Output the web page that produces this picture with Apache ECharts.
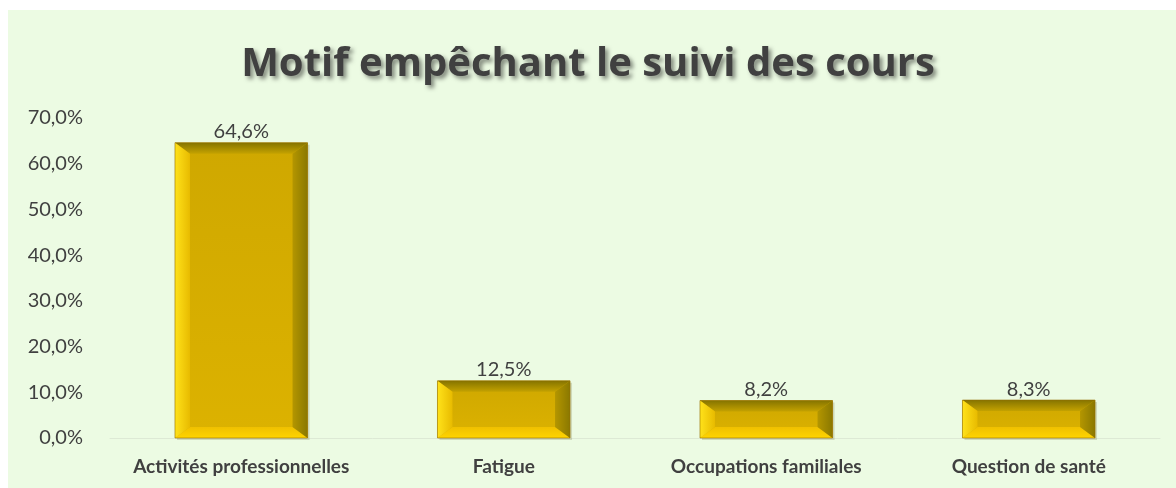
<!DOCTYPE html>
<html><head><meta charset="utf-8">
<script src="https://cdn.jsdelivr.net/npm/echarts@6/dist/echarts.min.js"></script>
<style>html,body{margin:0;padding:0;background:#fff}#c{width:1176px;height:488px}</style>
</head><body><div id="c"></div>
<script>
const titleText = 'Motif empêchant le suivi des cours';
const categories = ['Activités professionnelles', 'Fatigue', 'Occupations familiales', 'Question de santé'];
const values = [64.6, 12.5, 8.2, 8.3];
const yMin = 0, yMax = 70, yStep = 10;

const fmt = v => v.toFixed(1).replace('.', ',') + '%';
const chart = echarts.init(document.getElementById('c'));

function lg(x1, y1, x2, y2, c1, c2) {
  return new echarts.graphic.LinearGradient(x1, y1, x2, y2, [{offset: 0, color: c1}, {offset: 1, color: c2}]);
}

function renderItem(params, api) {
  const top = api.coord([api.value(0), api.value(1)]);
  const base = api.coord([api.value(0), 0]);
  const bw = api.size([1, 0])[0] * 0.505;
  const x0 = top[0] - bw / 2, x1 = x0 + bw, y0 = top[1], y1 = base[1];
  const h = y1 - y0;
  const b = Math.min(15, h / 2.2);
  const bt = Math.min(11, h / 2.6);
  return {
    type: 'group',
    children: [
      {type: 'rect', shape: {x: x0 + 2, y: y0 + 2, width: bw, height: h}, style: {fill: 'rgba(80,70,0,0.18)'}},
      {type: 'rect', shape: {x: x0, y: y0, width: bw, height: h}, style: {fill: lg(0, 0, 0, 1, '#cfa800', '#dcb200')}},
      {type: 'polygon', shape: {points: [[x0, y0], [x1, y0], [x1 - b, y0 + bt], [x0 + b, y0 + bt]]}, style: {fill: lg(0, 0, 0, 1, '#857400', '#c4a200')}},
      {type: 'polygon', shape: {points: [[x0, y1], [x1, y1], [x1 - b, y1 - bt], [x0 + b, y1 - bt]]}, style: {fill: lg(0, 1, 0, 0, '#ffd400', '#efc000')}},
      {type: 'polygon', shape: {points: [[x0, y0], [x0 + b, y0 + bt], [x0 + b, y1 - bt], [x0, y1]]}, style: {fill: lg(0, 0, 1, 0, '#ffe21a', '#e8bb00')}},
      {type: 'polygon', shape: {points: [[x1, y0], [x1 - b, y0 + bt], [x1 - b, y1 - bt], [x1, y1]]}, style: {fill: lg(1, 0, 0, 0, '#8a7800', '#b49600')}},
      {type: 'rect', shape: {x: x0, y: y0, width: bw, height: h}, style: {fill: null, stroke: 'rgba(150,110,0,0.6)', lineWidth: 1}},
      {type: 'text', x: top[0], y: y0 - 1, style: {text: fmt(api.value(1)), fill: '#404040', font: '20px Lato', align: 'center', verticalAlign: 'bottom'}}
    ]
  };
}

chart.setOption({
  animation: false,
  graphic: [
    {type: 'rect', z: -10, shape: {x: 8, y: 10, width: 1168, height: 478}, style: {fill: '#ecfbe3'}}
  ],
  title: {
    text: titleText, left: 'center', top: 40,
    textStyle: {fontFamily: 'Open Sans', fontWeight: 'bold', fontSize: 40, color: '#404040',
      textShadowColor: 'rgba(0,0,0,0.45)', textShadowBlur: 4, textShadowOffsetX: 3, textShadowOffsetY: 3}
  },
  grid: {left: 110, right: 16, top: 118, bottom: 50},
  xAxis: {
    type: 'category', data: categories,
    axisLine: {show: true, lineStyle: {color: '#dde9d5', width: 1}},
    axisTick: {show: false},
    axisLabel: {interval: 0, color: '#404040', fontFamily: 'Lato', fontWeight: 'bold', fontSize: 19, margin: 19}
  },
  yAxis: {
    type: 'value', min: yMin, max: yMax, interval: yStep,
    axisLine: {show: false}, axisTick: {show: false}, splitLine: {show: false},
    axisLabel: {color: '#404040', fontFamily: 'Lato', fontSize: 20, margin: 27, formatter: v => fmt(v)}
  },
  series: [{
    type: 'custom', renderItem: renderItem,
    encode: {x: 0, y: 1},
    data: values.map((v, i) => [i, v])
  }]
});
</script></body></html>
